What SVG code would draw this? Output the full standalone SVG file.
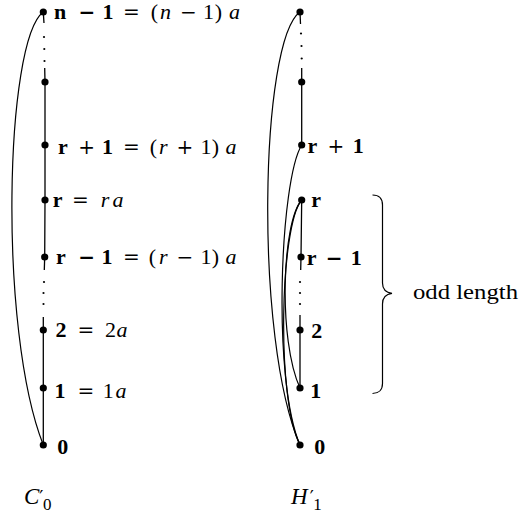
<svg xmlns="http://www.w3.org/2000/svg" width="519" height="514" viewBox="0 0 519 514">
<style>
.e{fill:none;stroke:#000;stroke-width:1.3}
.c{fill:none;stroke:#000;stroke-width:1.2}
.v{fill:#000}
.d{fill:#000}
text{font-family:"Liberation Serif","Times New Roman",serif;font-size:22px;text-anchor:middle;fill:#000}
.b{font-weight:bold}
.i{font-style:italic}
.o{font-family:"DejaVu Serif",serif;font-size:20px}
.s{text-anchor:start}
</style>
<rect width="519" height="514" fill="#fff"/>
<g id="connectors">
  <path class="e" d="M43.3,12 L44,23"/>
  <path class="e" d="M44.7,68 L45,82 L45,145 L45,200 L44.7,257 L44.3,270"/>
  <path class="e" d="M43.3,317 L43.3,330 L43.3,388 L43.3,445"/>
  <circle class="d" cx="44" cy="37" r="1.1"/>
  <circle class="d" cx="44.3" cy="49" r="1.1"/>
  <circle class="d" cx="44.5" cy="61" r="1.1"/>
  <circle class="d" cx="44" cy="282" r="1.1"/>
  <circle class="d" cx="43.5" cy="293" r="1.1"/>
  <circle class="d" cx="43.5" cy="304" r="1.1"/>
  <path class="c" d="M43.3,12 C5,40 -2,330 43.3,445"/>
  <path class="e" d="M300,12 L300.5,24"/>
  <circle class="d" cx="301" cy="33.5" r="1.1"/>
  <circle class="d" cx="301.5" cy="46" r="1.1"/>
  <circle class="d" cx="301.7" cy="58.5" r="1.1"/>
  <path class="e" d="M301.7,68 L301.7,82 L301.7,145"/>
  <path class="e" d="M301.7,200 L301,257 L300.7,270"/>
  <circle class="d" cx="300" cy="282" r="1.1"/>
  <circle class="d" cx="300" cy="293" r="1.1"/>
  <circle class="d" cx="300" cy="304" r="1.1"/>
  <path class="e" d="M300,315 L300,330 L300,388"/>
  <path class="c" d="M300,12 C260,40 254,340 300,445"/>
  <path class="c" d="M301.7,145 C280,180 272,380 300,445"/>
  <path class="c" d="M301.7,200 C280,225 276,400 300,445"/>
  <path class="c" d="M301.7,200 C282,222 278,340 300,388"/>
</g>
<g id="c0-n1"><circle class="v" cx="43.3" cy="12" r="3.6"/>
  <text y="18.5"><tspan x="60" class="b">n</tspan><tspan x="87" class="b o">−</tspan><tspan x="108" class="b">1</tspan><tspan x="131.5" class="o">=</tspan><tspan x="154.5">(</tspan><tspan x="165.5" class="i">n</tspan><tspan x="188.5" class="o">−</tspan><tspan x="208.5">1</tspan><tspan x="218.5">)</tspan><tspan x="234.5" class="i">a</tspan></text></g>
<g id="c0-m"><circle class="v" cx="45" cy="82" r="3.6"/></g>
<g id="c0-r1"><circle class="v" cx="45" cy="145" r="3.6"/>
  <text y="153.5"><tspan x="63" class="b">r</tspan><tspan x="86.7" class="o">+</tspan><tspan x="107.5" class="b">1</tspan><tspan x="131.3" class="o">=</tspan><tspan x="153.3">(</tspan><tspan x="163.3" class="i">r</tspan><tspan x="185" class="o">+</tspan><tspan x="206">1</tspan><tspan x="215.5">)</tspan><tspan x="231" class="i">a</tspan></text></g>
<g id="c0-r"><circle class="v" cx="45" cy="200" r="3.6"/>
  <text y="206.7"><tspan x="57.7" class="b">r</tspan><tspan x="80.5" class="o">=</tspan><tspan x="105" class="i">r</tspan><tspan x="118" class="i">a</tspan></text></g>
<g id="c0-rm1"><circle class="v" cx="44.7" cy="257" r="3.6"/>
  <text y="263.5"><tspan x="61" class="b">r</tspan><tspan x="86.7" class="b o">−</tspan><tspan x="107" class="b">1</tspan><tspan x="131.3" class="o">=</tspan><tspan x="152.5">(</tspan><tspan x="163.3" class="i">r</tspan><tspan x="185" class="o">−</tspan><tspan x="206">1</tspan><tspan x="215.5">)</tspan><tspan x="231" class="i">a</tspan></text></g>
<g id="c0-2"><circle class="v" cx="43.3" cy="330" r="3.6"/>
  <text y="337.3"><tspan x="61" class="b">2</tspan><tspan x="86" class="o">=</tspan><tspan x="110.5">2</tspan><tspan x="122" class="i">a</tspan></text></g>
<g id="c0-1"><circle class="v" cx="43.3" cy="388" r="3.6"/>
  <text y="398.3"><tspan x="60" class="b">1</tspan><tspan x="86" class="o">=</tspan><tspan x="108.3">1</tspan><tspan x="121" class="i">a</tspan></text></g>
<g id="c0-0"><circle class="v" cx="43.3" cy="445" r="3.6"/>
  <text y="454" x="62.7" class="b">0</text></g>
<g id="h1-n1"><circle class="v" cx="300" cy="12" r="3.6"/></g>
<g id="h1-m"><circle class="v" cx="301.7" cy="82" r="3.6"/></g>
<g id="h1-r1"><circle class="v" cx="301.7" cy="145" r="3.6"/>
  <text y="153.3"><tspan x="312.5" class="b">r</tspan><tspan x="335.8" class="o">+</tspan><tspan x="358.3" class="b">1</tspan></text></g>
<g id="h1-r"><circle class="v" cx="301.7" cy="200" r="3.6"/>
  <text y="206.7" x="316.2" class="b">r</text></g>
<g id="h1-rm1"><circle class="v" cx="301" cy="257" r="3.6"/>
  <text y="265"><tspan x="311.7" class="b">r</tspan><tspan x="334.2" class="b o">−</tspan><tspan x="356.2" class="b">1</tspan></text></g>
<g id="h1-2"><circle class="v" cx="300" cy="330" r="3.6"/>
  <text y="338.3" x="316.7" class="b">2</text></g>
<g id="h1-1"><circle class="v" cx="300" cy="388" r="3.6"/>
  <text y="398.3" x="315.7" class="b">1</text></g>
<g id="h1-0"><circle class="v" cx="300" cy="445" r="3.6"/>
  <text y="454" x="319.7" class="b">0</text></g>
<g id="brace">
  <path class="c" d="M372.5,195 C378.5,195 382.5,198 382.5,205 L382.5,283 C382.5,289 386,292.5 392,293.3 C386,294 382.5,297.5 382.5,304 L382.5,383.5 C382.5,390 378.5,393.5 372.5,393.5"/>
  <text x="413" y="299" class="s" style="font-size:21px" textLength="105" lengthAdjust="spacingAndGlyphs">odd length</text>
</g>
<g id="captions">
  <text x="24" y="504" class="s" style="font-size:23px"><tspan class="i">C</tspan><tspan class="o" style="font-size:18px" dx="0">′</tspan><tspan dx="-0.5" dy="5.5" style="font-size:17px">0</tspan></text>
  <text x="291" y="504" class="s" style="font-size:23px"><tspan class="i">H</tspan><tspan class="o" style="font-size:18px" dx="2">′</tspan><tspan dx="-0.5" dy="5.5" style="font-size:17px">1</tspan></text>
</g>
</svg>
